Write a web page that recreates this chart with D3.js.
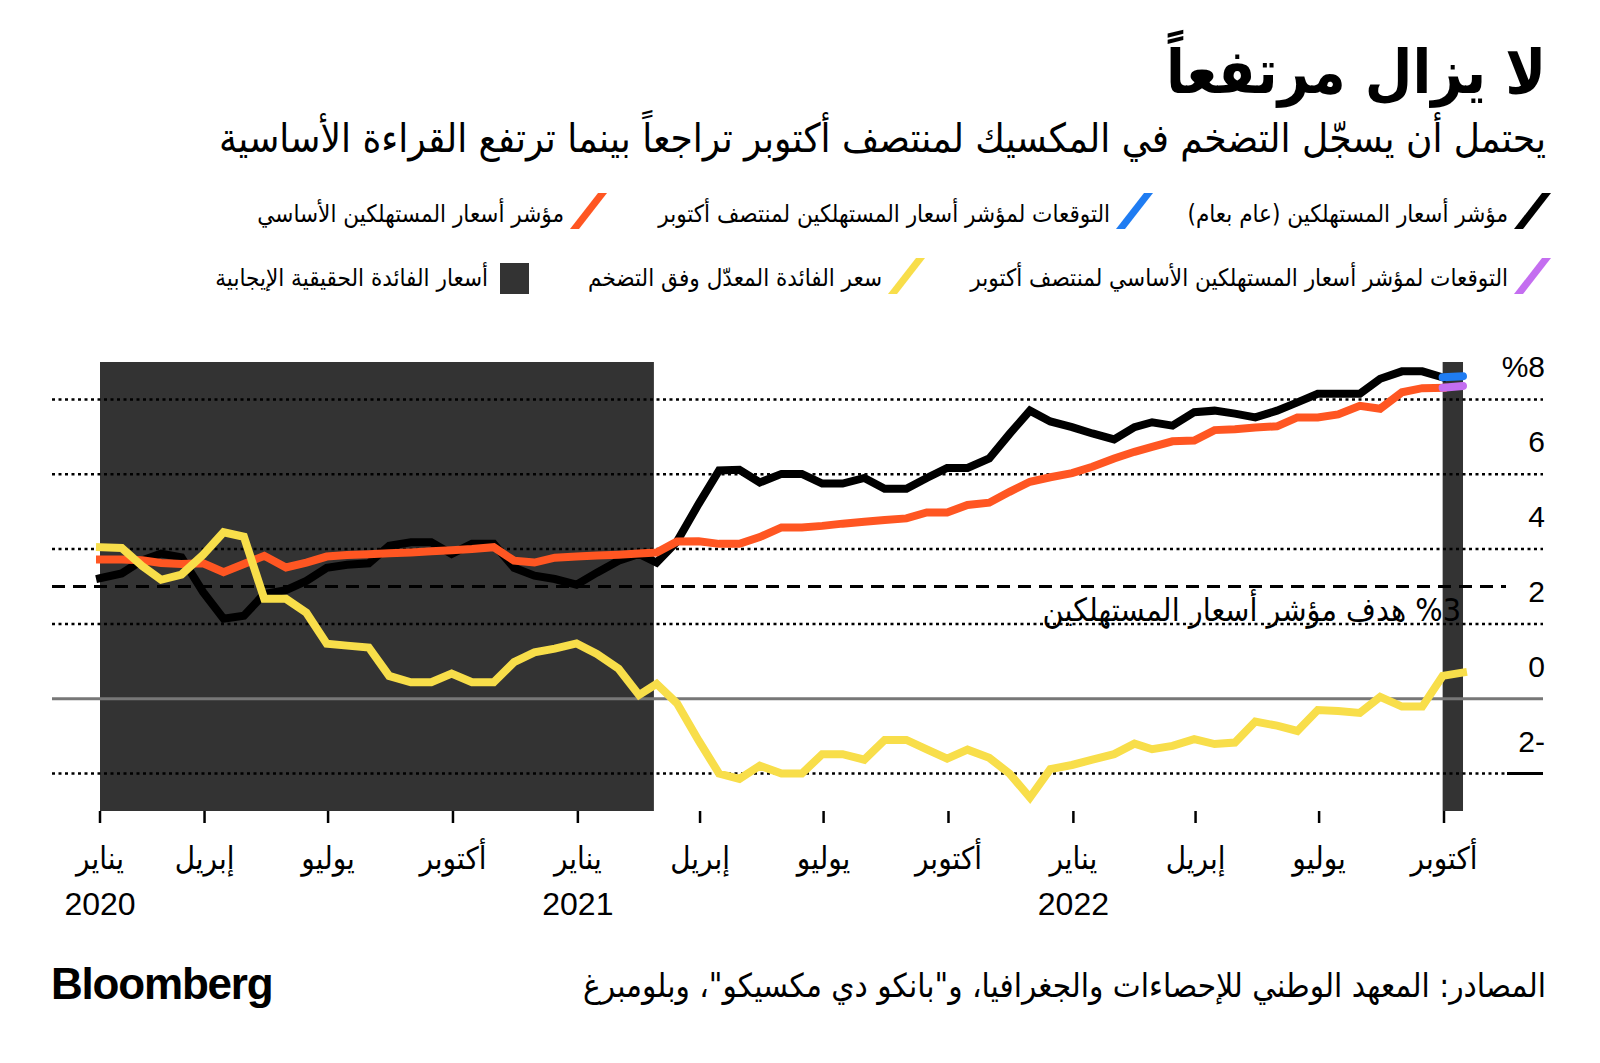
<!DOCTYPE html>
<html><head><meta charset="utf-8">
<script src="https://cdn.jsdelivr.net/npm/d3@7"></script>
<style>
body{margin:0;background:#fff}
svg{display:block}
.ar{font-family:"DejaVu Sans Condensed","DejaVu Sans",sans-serif;direction:rtl;unicode-bidi:embed}
.num{font-family:"Liberation Sans",Arial,sans-serif}
</style>
</head><body>
<svg id="c" width="1600" height="1063"></svg>
<script>
// ---------- DATA ----------
const dates = [
"2020-01-15","2020-01-31","2020-02-15","2020-02-29","2020-03-15","2020-03-31","2020-04-15","2020-04-30",
"2020-05-15","2020-05-31","2020-06-15","2020-06-30","2020-07-15","2020-07-31","2020-08-15","2020-08-31",
"2020-09-15","2020-09-30","2020-10-15","2020-10-31","2020-11-15","2020-11-30","2020-12-15","2020-12-31",
"2021-01-15","2021-01-31","2021-02-15","2021-02-28","2021-03-15","2021-03-31","2021-04-15","2021-04-30",
"2021-05-15","2021-05-31","2021-06-15","2021-06-30","2021-07-15","2021-07-31","2021-08-15","2021-08-31",
"2021-09-15","2021-09-30","2021-10-15","2021-10-31","2021-11-15","2021-11-30","2021-12-15","2021-12-31",
"2022-01-15","2022-01-31","2022-02-15","2022-02-28","2022-03-15","2022-03-31","2022-04-15","2022-04-30",
"2022-05-15","2022-05-31","2022-06-15","2022-06-30","2022-07-15","2022-07-31","2022-08-15","2022-08-31",
"2022-09-15","2022-09-30"];

// Headline CPI, YoY %
const cpi = [
3.22,3.35,3.70,3.88,3.78,2.85,2.14,2.22,2.80,2.90,3.15,3.50,3.58,3.62,4.09,4.18,4.18,3.87,4.14,4.14,3.50,3.29,3.20,3.05,
3.37,3.69,3.87,3.64,4.20,5.21,6.10,6.12,5.78,6.01,6.01,5.75,5.75,5.90,5.61,5.61,5.90,6.17,6.17,6.42,7.08,7.70,7.41,7.26,
7.09,6.93,7.26,7.39,7.30,7.66,7.70,7.62,7.52,7.70,7.92,8.15,8.15,8.15,8.55,8.75,8.75,8.59];

// Core CPI, YoY %
const core = [
3.72,3.72,3.70,3.63,3.60,3.62,3.38,3.60,3.82,3.51,3.64,3.80,3.84,3.86,3.89,3.91,3.94,3.97,4.00,4.05,3.69,3.64,3.77,3.80,
3.83,3.85,3.88,3.91,4.20,4.21,4.14,4.14,4.32,4.58,4.58,4.62,4.68,4.73,4.78,4.82,4.98,4.98,5.18,5.24,5.53,5.80,5.92,6.03,
6.20,6.42,6.60,6.73,6.88,6.90,7.18,7.20,7.25,7.28,7.52,7.52,7.60,7.83,7.75,8.19,8.30,8.31];

// Inflation-adjusted (real) rate, % (one extra point: mid-October 2022)
const realRateDates = dates.concat(["2022-10-15"]);
const realRate = [
4.05,4.03,3.55,3.18,3.32,3.85,4.45,4.33,2.67,2.67,2.30,1.47,1.42,1.37,0.61,0.44,0.44,0.67,0.44,0.44,0.98,1.24,1.34,1.48,
1.20,0.80,0.10,0.40,-0.12,-1.12,-2.00,-2.14,-1.79,-2.00,-2.00,-1.48,-1.48,-1.63,-1.10,-1.10,-1.35,-1.60,-1.36,-1.58,-2.00,-2.64,-1.88,-1.77,
-1.63,-1.48,-1.20,-1.35,-1.26,-1.08,-1.21,-1.17,-0.61,-0.72,-0.86,-0.30,-0.33,-0.38,0.05,-0.21,-0.21,0.61,0.70];

// Forecasts for mid-October
const forecastDates = ["2022-09-30","2022-10-15"];
const cpiForecast = [8.59, 8.62];
const coreForecast = [8.31, 8.36];

// Periods of positive real rates
const positiveBands = [["2020-01-15","2021-02-26"],["2022-09-30","2022-10-15"]];

const targetValue = 3;
const yTicks = [-2, 0, 2, 4, 6, 8];
const yTickLabels = ["2-", "0", "2", "4", "6", "%8"];

const xTickDates = ["2020-01-15","2020-04-01","2020-07-01","2020-10-01","2021-01-01","2021-04-01",
                    "2021-07-01","2021-10-01","2022-01-01","2022-04-01","2022-07-01","2022-10-01"];
const xTickMonths = ["يناير","إبريل","يوليو","أكتوبر","يناير","إبريل","يوليو","أكتوبر","يناير","إبريل","يوليو","أكتوبر"];
const xTickYears  = ["2020","","","","2021","","","","2022","","",""];

const title = "لا يزال مرتفعاً";
const subtitle = "يحتمل أن يسجّل التضخم في المكسيك لمنتصف أكتوبر تراجعاً بينما ترتفع القراءة الأساسية";
const targetLabel = "%3 هدف مؤشر أسعار المستهلكين";
const source = "المصادر: المعهد الوطني للإحصاءات والجغرافيا، و\"بانكو دي مكسيكو\"، وبلومبرغ";
const legendRow1 = [
  {label:"مؤشر أسعار المستهلكين (عام بعام)", color:"#000000", kind:"slash"},
  {label:"التوقعات لمؤشر أسعار المستهلكين لمنتصف أكتوبر", color:"#1f7cf2", kind:"slash"},
  {label:"مؤشر أسعار المستهلكين الأساسي", color:"#ff5622", kind:"slash"}];
const legendRow2 = [
  {label:"التوقعات لمؤشر أسعار المستهلكين الأساسي لمنتصف أكتوبر", color:"#c46ef0", kind:"slash"},
  {label:"سعر الفائدة المعدّل وفق التضخم", color:"#f8de4a", kind:"slash"},
  {label:"أسعار الفائدة الحقيقية الإيجابية", color:"#333333", kind:"box"}];

// ---------- STYLE / LAYOUT ----------
const COL = {cpi:"#000000", core:"#ff5622", real:"#f8de4a", cpiF:"#1f7cf2", coreF:"#c46ef0", band:"#333333", zero:"#777777"};
const W = 1600, H = 1063;
const plot = {left:52, right:1543, top:362, bottom:811};
const parse = d3.utcParse("%Y-%m-%d");

const svg = d3.select("#c");
svg.append("rect").attr("width",W).attr("height",H).attr("fill","#fff");

const x = d3.scaleUtc().domain([parse("2020-01-01"), parse("2022-10-01")]).range([81, 1444]);
const y = d3.scaleLinear().domain([-3, 9]).range([plot.bottom, plot.top]);

// Title & subtitle
svg.append("text").attr("class","ar").attr("x",1546).attr("y",93)
  .attr("text-anchor","start").attr("font-size",61).attr("font-weight","bold").text(title);
svg.append("text").attr("class","ar").attr("x",1546).attr("y",152)
  .attr("text-anchor","start").attr("font-size",40).text(subtitle);

// Legend
function slash(g, xr, yb, color){
  const h = 36, dx = 28, w = 9;
  g.append("polygon").attr("fill",color)
   .attr("points",[[xr-dx-w, yb],[xr-dx, yb],[xr, yb-h],[xr-w, yb-h]].map(p=>p.join(",")).join(" "));
}
const row1X = [1551, 1153, 607], row2X = [1551, 925, 529];
function legendRow(items, xs, yb, ybase){
  items.forEach((it,i)=>{
    const g = svg.append("g");
    if (it.kind==="slash") slash(g, xs[i], yb, it.color);
    else g.append("rect").attr("x",xs[i]-29).attr("y",yb-31).attr("width",29).attr("height",31).attr("fill",it.color);
    g.append("text").attr("class","ar").attr("x",xs[i]-(it.kind==="slash"?43:41)).attr("y",ybase)
      .attr("text-anchor","start").attr("font-size",24).text(it.label);
  });
}
legendRow(legendRow1, row1X, 229, 222);
legendRow(legendRow2, row2X, 294, 286);

// Bands
svg.append("g").selectAll("rect").data(positiveBands).join("rect")
  .attr("x", d=>x(parse(d[0]))).attr("width", d=>x(parse(d[1]))-x(parse(d[0])))
  .attr("y", y(9)).attr("height", y(-3)-y(9)).attr("fill", COL.band);

// Grid
const grid = svg.append("g");
grid.selectAll("line.dot").data(yTicks.filter(v=>v!==0)).join("line")
  .attr("x1",plot.left).attr("x2",plot.right).attr("y1",d=>y(d)).attr("y2",d=>y(d))
  .attr("stroke","#000").attr("stroke-width",2.5).attr("stroke-dasharray","3,3.5");
grid.append("line").attr("x1",plot.left).attr("x2",1506).attr("y1",y(targetValue)).attr("y2",y(targetValue))
  .attr("stroke","#000").attr("stroke-width",3).attr("stroke-dasharray","13,8");
grid.append("line").attr("x1",plot.left).attr("x2",plot.right).attr("y1",y(0)).attr("y2",y(0))
  .attr("stroke",COL.zero).attr("stroke-width",3);
grid.append("line").attr("x1",1507).attr("x2",plot.right).attr("y1",y(-2)).attr("y2",y(-2))
  .attr("stroke","#000").attr("stroke-width",3);

// Y labels
svg.append("g").selectAll("text").data(yTicks).join("text").attr("class","num")
  .attr("x",1545).attr("y",d=>y(d)-22).attr("text-anchor","end").attr("font-size",30)
  .text((d,i)=>yTickLabels[i]);

// Target label
svg.append("text").attr("class","ar").attr("x",1461).attr("y",621)
  .attr("text-anchor","start").attr("font-size",32).text(targetLabel);

// Lines
const line = d3.line().x(d=>x(d.date)).y(d=>y(d.v));
const mk = (ds, vs)=>ds.map((d,i)=>({date:parse(d), v:vs[i]}));
svg.append("path").datum(mk(dates,cpi)).attr("d",line).attr("fill","none")
  .attr("stroke",COL.cpi).attr("stroke-width",8).attr("stroke-linecap","square");
svg.append("path").datum(mk(dates,core)).attr("d",line).attr("fill","none")
  .attr("stroke",COL.core).attr("stroke-width",8).attr("stroke-linecap","square");
svg.append("path").datum(mk(realRateDates,realRate)).attr("d",line).attr("fill","none")
  .attr("stroke",COL.real).attr("stroke-width",8).attr("stroke-linecap","square");
svg.append("path").datum(mk(forecastDates,cpiForecast)).attr("d",line).attr("fill","none")
  .attr("stroke",COL.cpiF).attr("stroke-width",8).attr("stroke-linecap","round");
svg.append("path").datum(mk(forecastDates,coreForecast)).attr("d",line).attr("fill","none")
  .attr("stroke",COL.coreF).attr("stroke-width",8).attr("stroke-linecap","round");

// X axis
const xt = svg.append("g");
xTickDates.forEach((d,i)=>{
  const xx = x(parse(d));
  xt.append("line").attr("x1",xx).attr("x2",xx).attr("y1",plot.bottom).attr("y2",plot.bottom+12)
    .attr("stroke","#000").attr("stroke-width",2.5);
  xt.append("text").attr("class","ar").attr("x",xx).attr("y",869).attr("text-anchor","middle")
    .attr("font-size",31).text(xTickMonths[i]);
  if (xTickYears[i]) xt.append("text").attr("class","num").attr("x",xx).attr("y",915)
    .attr("text-anchor","middle").attr("font-size",32).text(xTickYears[i]);
});

// Footer
svg.append("text").attr("class","num").attr("x",51).attr("y",999).attr("font-size",44)
  .attr("font-weight","bold").attr("letter-spacing",-1.2).text("Bloomberg");
svg.append("text").attr("class","ar").attr("x",1546).attr("y",997)
  .attr("text-anchor","start").attr("font-size",33).text(source);
</script>
</body></html>
